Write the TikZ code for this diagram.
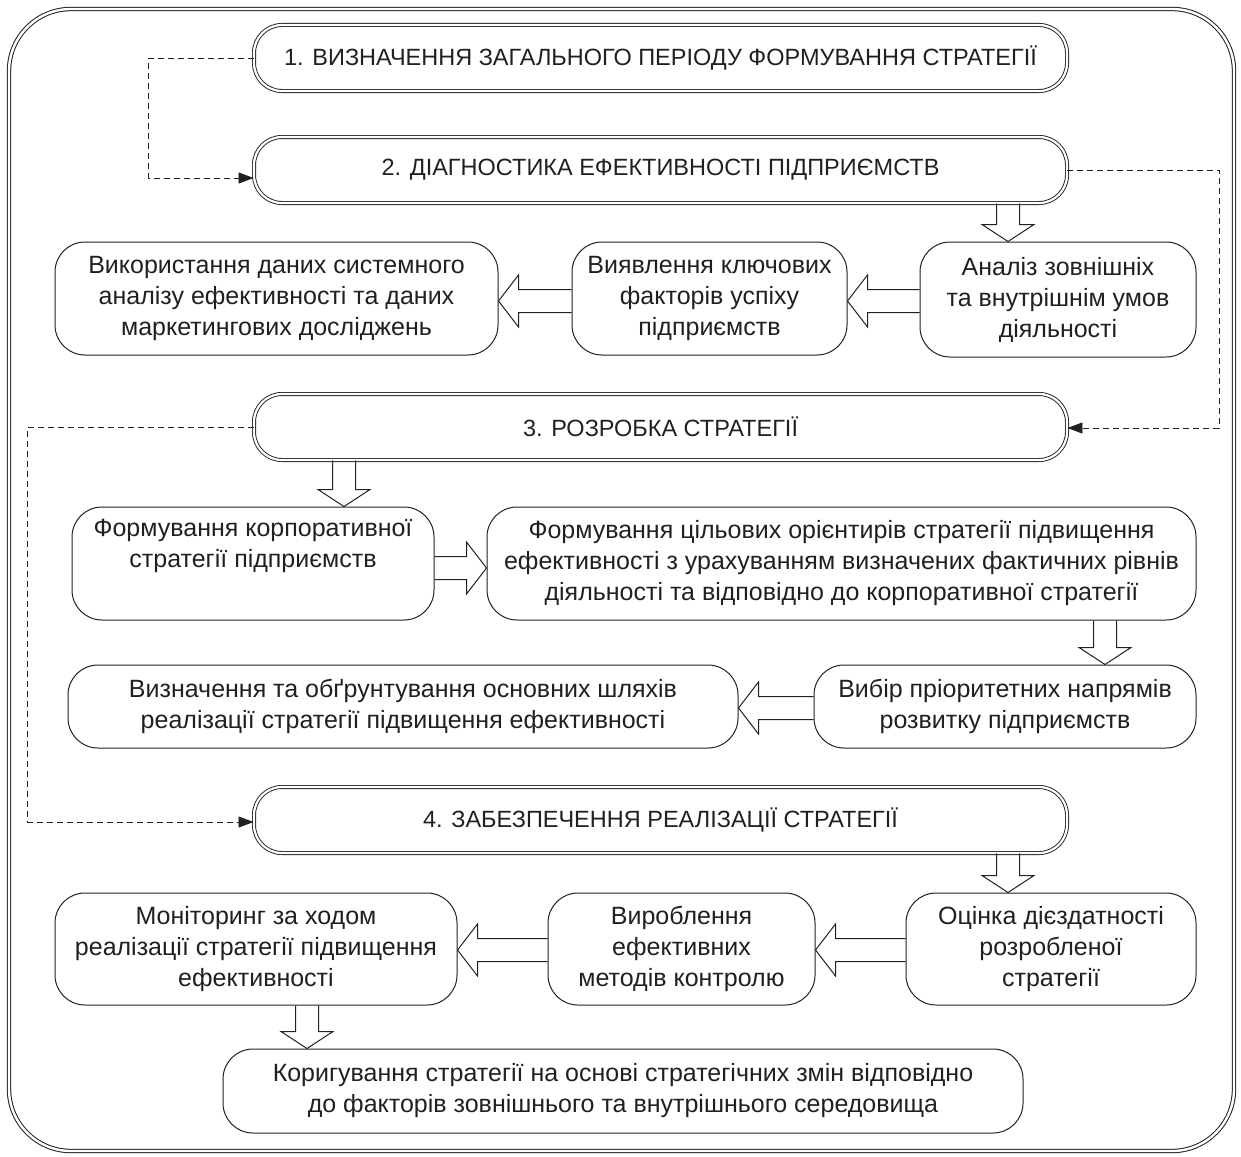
\documentclass[tikz,border=0pt]{standalone}
\usepackage{fontspec}
\setmainfont{Liberation Sans}
\usetikzlibrary{arrows.meta,calc}
\definecolor{ink}{HTML}{231F20}

\newcommand{\blkdown}[3]{%
  \draw[blk] let \p1=(#2.south), \p2=(#3.north) in
    (#1-11.5pt,\y1) -- (#1-11.5pt,\y2+17pt) -- (#1-26pt,\y2+17pt) -- (#1,\y2)
    -- (#1+26pt,\y2+17pt) -- (#1+11.5pt,\y2+17pt) -- (#1+11.5pt,\y1);}
\newcommand{\blkleft}[3]{%
  \draw[blk] let \p1=(#2.west), \p2=(#3.east) in
    (\x1,#1+11.5pt) -- (\x2+20pt,#1+11.5pt) -- (\x2+20pt,#1+26pt) -- (\x2,#1)
    -- (\x2+20pt,#1-26pt) -- (\x2+20pt,#1-11.5pt) -- (\x1,#1-11.5pt);}
\newcommand{\blkright}[3]{%
  \draw[blk] let \p1=(#2.east), \p2=(#3.west) in
    (\x1,#1+11.5pt) -- (\x2-20pt,#1+11.5pt) -- (\x2-20pt,#1+26pt) -- (\x2,#1)
    -- (\x2-20pt,#1-26pt) -- (\x2-20pt,#1-11.5pt) -- (\x1,#1-11.5pt);}

\begin{document}
\begin{tikzpicture}[x=1pt,y=1pt,
  every node/.style={font=\fontsize{25}{31}\selectfont, text=ink},
  hdr/.style={draw=ink, double, double distance=2.2pt, line width=0.9pt,
    rounded corners=28pt, minimum width=813pt, minimum height=66pt, inner sep=0pt,
    font=\fontsize{23.5}{30}\selectfont},
  box/.style={draw=ink, line width=1pt, rounded corners=30pt, align=center, inner sep=0pt},
  dashlink/.style={draw=ink, line width=0.8pt, dash pattern=on 6pt off 4pt},
  tip/.style={-{Triangle[length=15pt,width=11pt]}},
  blk/.style={draw=ink, line width=1pt, line join=miter}
]
\useasboundingbox (0,0) rectangle (1241,-1156);

% outer frame
\draw[draw=ink, double, double distance=2.4pt, line width=1pt, rounded corners=62pt]
  (9,-9) rectangle (1234,-1151);

% headers
\node[hdr] (h1) at (660.5,-58) {1. ВИЗНАЧЕННЯ ЗАГАЛЬНОГО ПЕРІОДУ ФОРМУВАННЯ СТРАТЕГІЇ};
\node[hdr] (h2) at (660.5,-170) {2. ДІАГНОСТИКА ЕФЕКТИВНОСТІ ПІДПРИЄМСТВ};
\node[hdr] (h3) at (660.5,-427) {3. РОЗРОБКА СТРАТЕГІЇ};
\node[hdr] (h4) at (660.5,-820) {4. ЗАБЕЗПЕЧЕННЯ РЕАЛІЗАЦІЇ СТРАТЕГІЇ};

% row 2
\node[box, minimum width=276, minimum height=115] (an) at (1058,-299.5)
  {Аналіз зовнішніх\\та внутрішнім умов\\діяльності};
\node[box, minimum width=275, minimum height=113] (vy) at (709.5,-298.5)
  {Виявлення ключових\\факторів успіху\\підприємств};
\node[box, minimum width=443, minimum height=113] (vk) at (276.5,-298.5)
  {Використання даних системного\\аналізу ефективності та даних\\маркетингових досліджень};

% row 3
\node[box, minimum width=362, minimum height=113] (fk) at (253,-563.5)
  {Формування корпоративної\\стратегії підприємств\\\strut};
\node[box, minimum width=709, minimum height=113] (fc) at (841.5,-563.5)
  {Формування цільових орієнтирів стратегії підвищення\\ефективності з урахуванням визначених фактичних рівнів\\діяльності та відповідно до корпоративної стратегії};
\node[box, minimum width=382, minimum height=83] (vb) at (1005,-706.5)
  {Вибір пріоритетних напрямів\\розвитку підприємств};
\node[box, minimum width=670, minimum height=83] (vz) at (403,-706.5)
  {Визначення та обґрунтування основних шляхів\\реалізації стратегії підвищення ефективності};

% row 4
\node[box, minimum width=290, minimum height=112] (oc) at (1051,-949)
  {Оцінка дієздатності\\розробленої\\стратегії};
\node[box, minimum width=267, minimum height=112] (vr) at (681.5,-949)
  {Вироблення\\ефективних\\методів контролю};
\node[box, minimum width=402, minimum height=112] (mo) at (256,-949)
  {Моніторинг за ходом\\реалізації стратегії підвищення\\ефективності};
\node[box, minimum width=800, minimum height=84] (ko) at (623,-1091)
  {Коригування стратегії на основі стратегічних змін відповідно\\до факторів зовнішнього та внутрішнього середовища};

% block arrows
\blkdown{1008pt}{h2}{an}
\blkleft{-301pt}{an}{vy}
\blkleft{-301pt}{vy}{vk}
\blkdown{344pt}{h3}{fk}
\blkright{-568pt}{fk}{fc}
\blkdown{1105pt}{fc}{vb}
\blkleft{-708pt}{vb}{vz}
\blkdown{1008pt}{h4}{oc}
\blkleft{-950pt}{oc}{vr}
\blkleft{-950pt}{vr}{mo}
\blkdown{307pt}{mo}{ko}

% dashed connectors
\draw[dashlink,tip] (h1.west) -- ++(-105pt,0) |- ($(h2.west)+(0,-8pt)$);
\draw[dashlink,tip] (h2.east) -- ++(152pt,0) |- ($(h3.east)+(0,-1pt)$);
\draw[dashlink,tip] (h3.west) -- ++(-226pt,0) |- ($(h4.west)+(0,-2pt)$);
\end{tikzpicture}
\end{document}
